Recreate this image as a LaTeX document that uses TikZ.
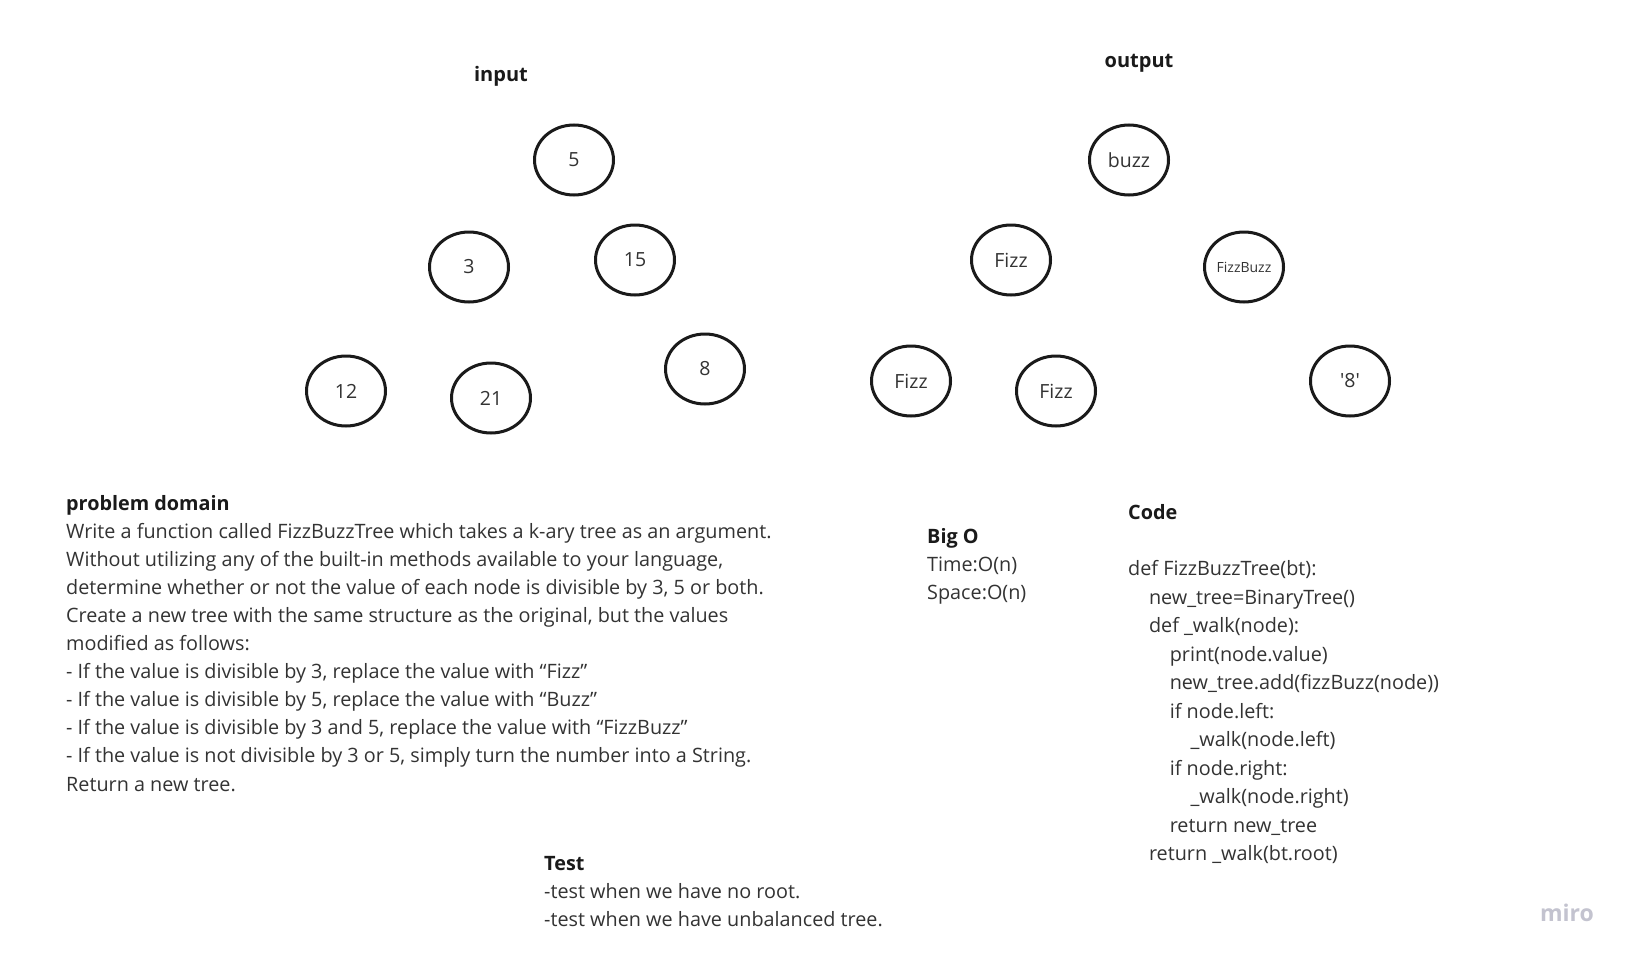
\documentclass[tikz,border=0pt]{standalone}
\usepackage{fontspec}
\setmainfont{Open Sans}
\usetikzlibrary{shapes.geometric}
\definecolor{txt}{HTML}{333333}
\definecolor{hd}{HTML}{1A1A1A}
\definecolor{miroc}{HTML}{C3C3CF}
\begin{document}
\begin{tikzpicture}[x=1pt,y=-1pt,
  tnode/.style={draw=hd, line width=3pt, ellipse, minimum width=79pt, minimum height=70pt, inner sep=0pt, text=txt, font=\fontsize{19.5}{22}\selectfont},
  body/.style={anchor=base west, inner sep=0pt, text=txt, font=\fontsize{19.8}{22}\selectfont},
  head/.style={anchor=base west, inner sep=0pt, text=hd, font=\fontsize{19.8}{22}\selectfont\bfseries},
  lbl/.style={inner sep=0pt, text=hd, font=\fontsize{20}{24}\selectfont\bfseries}]
\useasboundingbox[fill=white] (0,0) rectangle (1630,958);
% titles
\node[lbl] (inlbl) at (501,76) {input};
\node[lbl] (outlbl) at (1139,63) {output};
% input tree
\node[tnode] (n5) at (574,160) {5};
\node[tnode] (n3) at (469,267) {3};
\node[tnode] (n15) at (635,260) {15};
\node[tnode] (n12) at (346,391) {12};
\node[tnode] (n21) at (491,398) {21};
\node[tnode] (n8) at (705,369) {8};
% output tree
\node[tnode] (obuzz) at (1129,160) {buzz};
\node[tnode] (ofizz) at (1011,260) {Fizz};
\node[tnode, font=\fontsize{14}{16}\selectfont] (ofb) at (1244,267) {FizzBuzz};
\node[tnode] (ofizzl) at (911,381) {Fizz};
\node[tnode] (ofizzr) at (1056,391) {Fizz};
\node[tnode] (o8) at (1350,381) {\textquotesingle 8\textquotesingle};
% problem domain
\node[head] (pdh) at (66,510) {problem domain};
\foreach [count=\i] \t in {
  {Write a function called FizzBuzzTree which takes a k-ary tree as an argument.},
  {Without utilizing any of the built-in methods available to your language,},
  {determine whether or not the value of each node is divisible by 3, 5 or both.},
  {Create a new tree with the same structure as the original, but the values},
  {modified as follows:},
  {- If the value is divisible by 3, replace the value with “Fizz”},
  {- If the value is divisible by 5, replace the value with “Buzz”},
  {- If the value is divisible by 3 and 5, replace the value with “FizzBuzz”},
  {- If the value is not divisible by 3 or 5, simply turn the number into a String.},
  {Return a new tree.}}
  \node[body] (pd\i) at (66,{510+28.1*\i}) {\t};
% Big O
\node[head] (bigo) at (927,543) {Big O};
\node[body] (time) at (927,571) {Time:O(n)};
\node[body] (space) at (927,599) {Space:O(n)};
% Code
\node[head] (code) at (1128,519) {Code};
\foreach [count=\i] \ind/\t in {
  0/{def FizzBuzzTree(bt):},
  1/{new\_tree=BinaryTree()},
  1/{def \_walk(node):},
  2/{print(node.value)},
  2/{new\_tree.add(fizzBuzz(node))},
  2/{if node.left:},
  3/{\_walk(node.left)},
  2/{if node.right:},
  3/{\_walk(node.right)},
  2/{return new\_tree},
  1/{return \_walk(bt.root)}}
  \node[body] (c\i) at ({1128+20.8*\ind},{575.5+28.5*(\i-1)}) {\t};
% Test
\node[head] (test) at (544,870) {Test};
\node[body] (t1) at (544,898) {-test when we have no root.};
\node[body] (t2) at (544,926) {-test when we have unbalanced tree.};
% logo
\node[inner sep=0pt, text=miroc, font=\fontsize{23}{26}\selectfont\bfseries] (miro) at (1567,913) {miro};
\end{tikzpicture}
\end{document}
